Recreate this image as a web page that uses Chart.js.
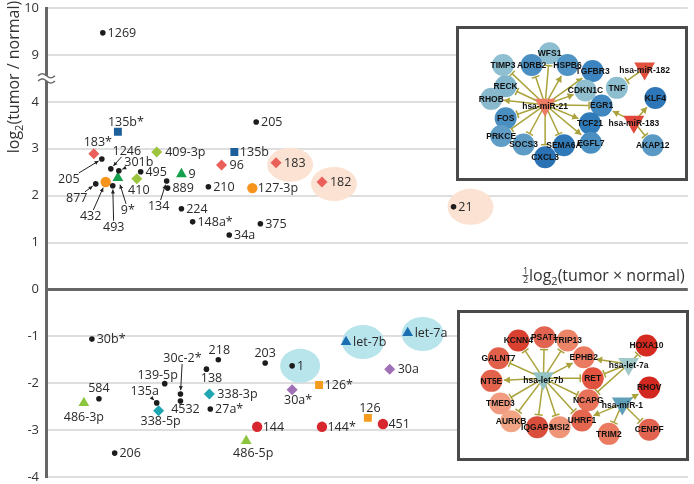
<!DOCTYPE html>
<html><head><meta charset="utf-8">
<script src="https://cdn.jsdelivr.net/npm/chart.js@4.4.1/dist/chart.umd.min.js"></script>
<style>
html,body{margin:0;padding:0;background:#fff;overflow:hidden}
#wrap{position:relative;width:694px;height:484px}
#mainBox{position:absolute;left:0;top:0;width:694px;height:484px}
.inset{position:absolute}
</style></head><body>
<div id="wrap">
 <div id="mainBox"><canvas id="main"></canvas></div>
 <div class="inset" style="left:456px;top:26px;width:232px;height:155px"><canvas id="netA"></canvas></div>
 <div class="inset" style="left:457px;top:310px;width:232px;height:151px"><canvas id="netB"></canvas></div>
</div>
<script>
// ================= DATA =================
// y axis ticks (display positions -4..6; values above the break are 9 and 10)
const yTickLabels = ['-4','-3','-2','-1','0','1','2','3','4','9','10'];

// black dots
const blackNames = ['1269','1246','301b','205','495','877','493','134','889','210','224','148a*','34a','375','205','21','30b*','584','206','139-5p','135a','30c-2*','4532','138','218','27a*','203','1'];
const blackX = [1.77,2.02,2.27,1.74,2.95,1.55,2.08,3.76,3.79,5.06,4.22,4.57,5.71,6.68,6.55,12.70,1.43,1.65,2.14,3.70,3.45,4.19,4.19,5.00,5.37,5.12,6.83,7.67];
const blackY = [9.47,2.57,2.53,2.78,2.51,2.25,2.21,2.31,2.16,2.19,1.72,1.44,1.16,1.40,3.57,1.76,-1.06,-2.33,-3.49,-2.01,-2.42,-2.23,-2.38,-1.70,-1.50,-2.55,-1.57,-1.63];
// blue squares
const blueSqNames = ['135b*','135b'];
const blueSqX = [2.24,5.87];
const blueSqY = [3.36,2.93];
// red diamonds
const redDiaNames = ['183*','96','183','182'];
const redDiaX = [1.49,5.47,7.17,8.60];
const redDiaY = [2.89,2.65,2.70,2.29];
// yellow-green diamonds
const ygDiaNames = ['409-3p','410'];
const ygDiaX = [3.45,2.83];
const ygDiaY = [2.93,2.36];
// green triangles
const greenTriNames = ['9','9*'];
const greenTriX = [4.22,2.24];
const greenTriY = [2.46,2.38];
// orange circles
const orangeCirNames = ['432','127-3p'];
const orangeCirX = [1.86,6.43];
const orangeCirY = [2.29,2.16];
// light-green triangles
const lgTriNames = ['486-3p','486-5p'];
const lgTriX = [1.18,6.24];
const lgTriY = [-2.42,-3.23];
// teal diamonds
const tealDiaNames = ['338-5p','338-3p'];
const tealDiaX = [3.51,5.09];
const tealDiaY = [-2.59,-2.23];
// purple diamonds
const purpleDiaNames = ['30a*','30a'];
const purpleDiaX = [7.67,10.71];
const purpleDiaY = [-2.14,-1.70];
// orange squares
const orangeSqNames = ['126*','126'];
const orangeSqX = [8.51,10.03];
const orangeSqY = [-2.04,-2.74];
// red circles
const redCirNames = ['144','144*','451'];
const redCirX = [6.58,8.60,10.50];
const redCirY = [-2.93,-2.93,-2.87];
// blue triangles
const blueTriNames = ['let-7b','let-7a'];
const blueTriX = [9.35,11.27];
const blueTriY = [-1.12,-0.93];

// highlighted miRNAs
const highlighted = ['183','182','21','1','let-7b','let-7a'];

// network A (upregulated miRNAs and targets)
const netANames = ['hsa-miR-21','hsa-miR-182','hsa-miR-183','WFS1','TIMP3','ADRB2','HSPB6','TGFBR3','RECK','CDKN1C','RHOB','EGR1','TNF','KLF4','FOS','TCF21','PRKCE','SOCS3','SEMA6A','EGFL7','CXCL3','AKAP12'];
const netAX = [86,197,185,91,39,71,111,139,42,131,26,149,166,209,42,136,37,62,107,137,86,206];
const netAY = [79,36,99,18,32,32,32,39,57,62,72,80,59,71,95,101,116,126,127,124,141,127];
const netAColors = ['#ec7c63','#e2503e','#e0473a','#8dbdd0','#8fc0d2','#4b8fc2','#4f94c4','#3b84bf','#80b5cb','#90c0d0','#88b9cd','#4188c0','#8ebfd0','#2d77b8','#4a8fc1','#2f7bba','#5f9dc6','#5e9cc5','#3079b8','#4a8fc1','#2a72b3','#5a99c4'];
const netAEdges = [
 ['hsa-miR-21','TIMP3','T'],['hsa-miR-21','ADRB2','T'],['hsa-miR-21','WFS1','T'],['hsa-miR-21','HSPB6','A'],
 ['hsa-miR-21','TGFBR3','A'],['hsa-miR-21','RECK','T'],['hsa-miR-21','CDKN1C','A'],['hsa-miR-21','RHOB','A'],
 ['hsa-miR-21','EGR1','T'],['hsa-miR-21','FOS','T'],['hsa-miR-21','TCF21','A'],['hsa-miR-21','PRKCE','T'],
 ['hsa-miR-21','SOCS3','T'],['hsa-miR-21','SEMA6A','T'],['hsa-miR-21','EGFL7','A'],['hsa-miR-21','CXCL3','T'],
 ['hsa-miR-182','TNF','T'],['hsa-miR-183','EGR1','A'],['hsa-miR-183','KLF4','A'],['hsa-miR-183','AKAP12','T']
];

// network B (downregulated miRNAs and targets)
const netBNames = ['hsa-let-7b','hsa-let-7a','hsa-miR-1','PSAT1','KCNN4','TRIP13','HOXA10','GALNT7','EPHB2','NT5E','RET','RHOV','TMED3','NCAPG','AURKB','UHRF1','IQGAP3','MSI2','TRIM2','CENPF'];
const netBX = [83,178,171,84,55,110,198,33,128,25,138,201,35,133,47,126,76,101,156,201];
const netBY = [67,50,97,18,22,22,28,43,42,70,67,78,97,93,118,117,125,125,133,128];
const netBColors = ['#94c3c3','#a2c9c9','#5f9fb8','#e26450','#d9402f','#ec8468','#d42a1f','#e0604a','#ea7a60','#e2624c','#e2533f','#d32820','#f19c80','#e87259','#f2a584','#e4664f','#da4e3c','#f09477','#ea7b61','#e26350'];
const netBEdges = [
 ['hsa-let-7b','KCNN4','T'],['hsa-let-7b','PSAT1','T'],['hsa-let-7b','TRIP13','T'],['hsa-let-7b','GALNT7','T'],
 ['hsa-let-7b','EPHB2','A'],['hsa-let-7b','NT5E','A'],['hsa-let-7b','RET','T'],['hsa-let-7b','TMED3','T'],
 ['hsa-let-7b','NCAPG','T'],['hsa-let-7b','AURKB','T'],['hsa-let-7b','IQGAP3','T'],['hsa-let-7b','MSI2','T'],
 ['hsa-let-7b','UHRF1','T'],
 ['hsa-let-7a','EPHB2','A'],['hsa-let-7a','RET','T'],['hsa-let-7a','NCAPG','T'],['hsa-let-7a','HOXA10','T'],
 ['hsa-miR-1','RHOV','A'],['hsa-miR-1','UHRF1','A'],['hsa-miR-1','TRIM2','T'],['hsa-miR-1','CENPF','T']
];

// ================= STYLE =================
const FONT = "'Open Sans', 'DejaVu Sans', sans-serif";
Chart.defaults.font.family = FONT;
function toDisplay(y){ return y > 4.5 ? y - 4 : y; }

const series = [
 {names:blackNames, x:blackX, y:blackY, shape:'circle', r:2.8, color:'#1c1c1c', gap:4.8},
 {names:blueSqNames, x:blueSqX, y:blueSqY, shape:'rect', r:5.6, color:'#1d5f98', gap:5.5},
 {names:redDiaNames, x:redDiaX, y:redDiaY, shape:'rectRot', r:5.5, color:'#ea5f5a', gap:8},
 {names:ygDiaNames, x:ygDiaX, y:ygDiaY, shape:'rectRot', r:5.5, color:'#9cc53d', gap:8.5},
 {names:greenTriNames, x:greenTriX, y:greenTriY, shape:'triangle', r:6.2, color:'#16a04b', gap:7},
 {names:orangeCirNames, x:orangeCirX, y:orangeCirY, shape:'circle', r:5.2, color:'#f7941e', gap:5.5},
 {names:lgTriNames, x:lgTriX, y:lgTriY, shape:'triangle', r:6.2, color:'#8cc63f', gap:7},
 {names:tealDiaNames, x:tealDiaX, y:tealDiaY, shape:'rectRot', r:5.5, color:'#1ea6b2', gap:8},
 {names:purpleDiaNames, x:purpleDiaX, y:purpleDiaY, shape:'rectRot', r:5.5, color:'#a070b6', gap:8},
 {names:orangeSqNames, x:orangeSqX, y:orangeSqY, shape:'rect', r:5.6, color:'#f59c1e', gap:5.5},
 {names:redCirNames, x:redCirX, y:redCirY, shape:'circle', r:5.2, color:'#d8262e', gap:5.5},
 {names:blueTriNames, x:blueTriX, y:blueTriY, shape:'triangle', r:6.2, color:'#1b6fb2', gap:7}
];

// label placement (text-centre offsets in px); default = right of marker
const PLACE = {
 '135b*':{dx:8,dy:-10}, '183*':{dx:4,dy:-12},
 '1246':{dx:16,dy:-18,arrow:true}, '301b':{dx:20,dy:-9,arrow:true},
 '205':{dx:-33,dy:20,arrow:true}, '877':{dx:-19,dy:14,arrow:true},
 '432':{dx:-15,dy:34,arrow:true}, '493':{dx:1,dy:41,arrow:true},
 '9*':{dx:10,dy:32,arrow:true}, '410':{dx:2,dy:11}, '134':{dx:-8,dy:25,arrow:true},
 '584':{dx:0,dy:-11}, '486-3p':{dx:0,dy:14}, '139-5p':{dx:-7,dy:-9},
 '135a':{dx:-12,dy:-12,arrow:true}, '338-5p':{dx:2,dy:10}, '30c-2*':{dx:2,dy:-36,arrow:true},
 '4532':{dx:5,dy:8}, '138':{dx:5,dy:9}, '218':{dx:1,dy:-10}, '203':{dx:0,dy:-10},
 '30a*':{dx:6,dy:10}, '126':{dx:2,dy:-10}, '486-5p':{dx:7,dy:12}
};
const HILITE = {
 '183':{dx:14,dy:2,rx:23,ry:17}, '182':{dx:12,dy:2,rx:23,ry:17}, '21':{dx:17,dy:0,rx:23,ry:18},
 '1':{dx:8,dy:0,rx:20,ry:17}, 'let-7b':{dx:17,dy:0,rx:21,ry:17}, 'let-7a':{dx:15,dy:1,rx:21,ry:17}
};

function drawArrow(ctx, tx, ty, w, h, px, py, pr){
  const dx = px - tx, dy = py - ty, len = Math.hypot(dx, dy);
  const ux = dx/len, uy = dy/len;
  const sx = Math.abs(ux) > 1e-6 ? (w/2+1)/Math.abs(ux) : Infinity;
  const sy = Math.abs(uy) > 1e-6 ? (h/2)/Math.abs(uy) : Infinity;
  const s = Math.min(sx, sy);
  const x0 = tx + ux*s, y0 = ty + uy*s;
  const x1 = px - ux*(pr+1), y1 = py - uy*(pr+1);
  ctx.save();
  ctx.strokeStyle = '#222'; ctx.fillStyle = '#222'; ctx.lineWidth = 1;
  ctx.beginPath(); ctx.moveTo(x0, y0); ctx.lineTo(x1, y1); ctx.stroke();
  const a = 4, b = 2;
  ctx.beginPath();
  ctx.moveTo(x1, y1);
  ctx.lineTo(x1 - ux*a - uy*b, y1 - uy*a + ux*b);
  ctx.lineTo(x1 - ux*a + uy*b, y1 - uy*a - ux*b);
  ctx.closePath(); ctx.fill();
  ctx.restore();
}

function forEachPoint(chart, fn){
  const seen = {};
  chart.data.datasets.forEach((ds, di) => {
    const meta = chart.getDatasetMeta(di);
    ds.names.forEach((n, i) => {
      const key = seen[n] ? n + '#2' : n; seen[n] = true;
      fn(ds, meta.data[i], n, key);
    });
  });
}

const mainDecor = {
  id: 'mainDecor',
  beforeDatasetsDraw(chart){
    const ctx = chart.ctx, zero = chart.scales.y.getPixelForValue(0);
    forEachPoint(chart, (ds, el, n) => {
      const h = HILITE[n]; if (!h || highlighted.indexOf(n) < 0) return;
      ctx.save();
      ctx.fillStyle = el.y < zero ? '#fce2d2' : '#b8e4ec';
      ctx.beginPath(); ctx.ellipse(el.x + h.dx, el.y + h.dy, h.rx, h.ry, 0, 0, Math.PI*2); ctx.fill();
      ctx.restore();
    });
  },
  afterDatasetsDraw(chart){
    const ctx = chart.ctx;
    ctx.save();
    ctx.font = "12.5px " + FONT; ctx.fillStyle = '#2a2a2a'; ctx.textBaseline = 'middle';
    forEachPoint(chart, (ds, el, n, key) => {
      const p = PLACE[key];
      if (!p){ ctx.textAlign = 'left'; ctx.fillText(n, el.x + ds.gap, el.y + 0.5); return; }
      ctx.textAlign = 'center';
      const tx = el.x + p.dx, ty = el.y + p.dy;
      ctx.fillText(n, tx, ty + 0.5);
      if (p.arrow){
        const w = ctx.measureText(n).width;
        drawArrow(ctx, tx, ty, w, 12, el.x, el.y, ds.pointRadius);
      }
    });
    ctx.restore();
  },
  afterDraw(chart){
    const ctx = chart.ctx, ys = chart.scales.y, left = chart.chartArea.left;
    // axis break mark
    const yb = ys.getPixelForValue(4.5);
    ctx.save();
    ctx.fillStyle = '#fff'; ctx.fillRect(left - 3, yb - 2.5, 6, 5);
    ctx.strokeStyle = '#666'; ctx.lineWidth = 1.4;
    [-2.6, 2.6].forEach(off => {
      ctx.beginPath();
      for (let i = 0; i <= 20; i++){
        const x = left - 8 + i*0.85, y = yb + off - 2*Math.sin(i/20*2*Math.PI);
        if (i === 0) ctx.moveTo(x, y); else ctx.lineTo(x, y);
      }
      ctx.stroke();
    });
    ctx.restore();
    // y title
    ctx.save();
    ctx.fillStyle = '#333'; ctx.textBaseline = 'alphabetic'; ctx.textAlign = 'left';
    const big = "16px " + FONT, small = "11px " + FONT;
    ctx.font = big; const w1 = ctx.measureText('log').width, w3 = ctx.measureText('(tumor / normal)').width;
    ctx.font = small; const w2 = ctx.measureText('2').width;
    const W = w1 + w2 + w3;
    ctx.translate(19, 77); ctx.rotate(-Math.PI/2);
    let x = -W/2;
    ctx.font = big; ctx.fillText('log', x, 0); x += w1;
    ctx.font = small; ctx.fillText('2', x, 4); x += w2;
    ctx.font = big; ctx.fillText('(tumor / normal)', x, 0);
    ctx.restore();
    // x title
    ctx.save();
    ctx.fillStyle = '#333'; ctx.strokeStyle = '#333'; ctx.textBaseline = 'alphabetic';
    ctx.font = "9px " + FONT; ctx.textAlign = 'center';
    ctx.fillText('1', 525.5, 274);
    ctx.fillText('2', 525.5, 283);
    ctx.lineWidth = 0.8; ctx.beginPath(); ctx.moveTo(522.5, 275.5); ctx.lineTo(528.5, 275.5); ctx.stroke();
    ctx.textAlign = 'left';
    let xx = 529;
    ctx.font = big; ctx.fillText('log', xx, 281); xx += ctx.measureText('log').width;
    ctx.font = small; ctx.fillText('2', xx, 285); xx += ctx.measureText('2').width;
    ctx.font = big; ctx.fillText('(tumor × normal)', xx, 281);
    ctx.restore();
  }
};

new Chart(document.getElementById('main'), {
  type: 'scatter',
  data: {
    datasets: series.map(s => ({
      names: s.names, gap: s.gap,
      data: s.x.map((v, i) => ({x: v, y: toDisplay(s.y[i])})),
      pointStyle: s.shape, pointRadius: s.r, pointHoverRadius: s.r,
      backgroundColor: s.color, borderColor: s.color, pointBorderWidth: 0
    }))
  },
  options: {
    responsive: true, maintainAspectRatio: false, animation: false,
    layout: {padding: {top: 0, right: 5, bottom: 0, left: 0}},
    plugins: {legend: {display: false}, tooltip: {enabled: false}},
    scales: {
      x: {type: 'linear', min: 0, max: 20, display: false},
      y: {
        type: 'linear', min: -4, max: 6,
        afterFit: s => { s.width = 46; s.paddingTop = 8; s.paddingBottom = 7; },
        ticks: {stepSize: 1, padding: 7, color: '#333', font: {size: 13},
                callback: (v, i) => yTickLabels[Math.round(v) + 4]},
        grid: {drawTicks: false, color: c => c.tick && c.tick.value === 0 ? '#666' : '#dedede',
               lineWidth: c => c.tick && c.tick.value === 0 ? 3 : 2},
        border: {color: '#666', width: 3}
      }
    }
  },
  plugins: [mainDecor]
});

// ================= NETWORK INSETS =================
function makeNet(id, names, xs, ys, colors, edges, W, H){
  const isMir = names.map(n => n.indexOf('hsa-') === 0);
  const netDecor = {
    id: 'netDecor',
    beforeDraw(chart){
      const ctx = chart.ctx;
      ctx.save(); ctx.fillStyle = '#fff'; ctx.fillRect(0, 0, chart.width, chart.height); ctx.restore();
    },
    beforeDatasetsDraw(chart){
      const ctx = chart.ctx, sx = chart.scales.x, sy = chart.scales.y;
      ctx.save();
      ctx.strokeStyle = '#aaa23a'; ctx.fillStyle = '#aaa23a'; ctx.lineWidth = 1.5;
      edges.forEach(e => {
        const a = names.indexOf(e[0]), b = names.indexOf(e[1]);
        const x0 = sx.getPixelForValue(xs[a]), y0 = sy.getPixelForValue(ys[a]);
        const x1 = sx.getPixelForValue(xs[b]), y1 = sy.getPixelForValue(ys[b]);
        const len = Math.hypot(x1 - x0, y1 - y0), ux = (x1 - x0)/len, uy = (y1 - y0)/len;
        const ex = x1 - ux*12.5, ey = y1 - uy*12.5;
        ctx.beginPath(); ctx.moveTo(x0, y0); ctx.lineTo(ex, ey); ctx.stroke();
        if (e[2] === 'T'){
          ctx.beginPath(); ctx.moveTo(ex - uy*4, ey + ux*4); ctx.lineTo(ex + uy*4, ey - ux*4); ctx.stroke();
        } else {
          ctx.beginPath(); ctx.moveTo(ex, ey);
          ctx.lineTo(ex - ux*6 - uy*3.5, ey - uy*6 + ux*3.5);
          ctx.lineTo(ex - ux*6 + uy*3.5, ey - uy*6 - ux*3.5);
          ctx.closePath(); ctx.fill();
        }
      });
      ctx.restore();
    },
    afterDatasetsDraw(chart){
      const ctx = chart.ctx, meta = chart.getDatasetMeta(0);
      ctx.save();
      ctx.font = "bold 8.5px 'Liberation Sans', Arial, sans-serif";
      ctx.fillStyle = '#111'; ctx.textAlign = 'center'; ctx.textBaseline = 'middle';
      names.forEach((n, i) => {
        const el = meta.data[i];
        ctx.fillText(n, el.x, el.y + (isMir[i] ? 2 : 0.5));
      });
      ctx.strokeStyle = '#4a4a4a'; ctx.lineWidth = 3;
      ctx.strokeRect(1.5, 1.5, chart.width - 3, chart.height - 3);
      ctx.restore();
    }
  };
  new Chart(document.getElementById(id), {
    type: 'scatter',
    data: {datasets: [{
      data: xs.map((v, i) => ({x: v, y: ys[i]})),
      pointStyle: isMir.map(m => m ? 'triangle' : 'circle'),
      pointRotation: isMir.map(m => m ? 180 : 0),
      pointRadius: isMir.map(m => m ? 12 : 11),
      pointHoverRadius: isMir.map(m => m ? 12 : 11),
      backgroundColor: colors, borderColor: colors, pointBorderWidth: 0
    }]},
    options: {
      responsive: true, maintainAspectRatio: false, animation: false,
      layout: {padding: 0},
      plugins: {legend: {display: false}, tooltip: {enabled: false}},
      scales: {
        x: {type: 'linear', min: 0, max: W, display: false},
        y: {type: 'linear', min: 0, max: H, reverse: true, display: false}
      }
    },
    plugins: [netDecor]
  });
}
makeNet('netA', netANames, netAX, netAY, netAColors, netAEdges, 232, 155);
makeNet('netB', netBNames, netBX, netBY, netBColors, netBEdges, 232, 151);
</script>
</body></html>
